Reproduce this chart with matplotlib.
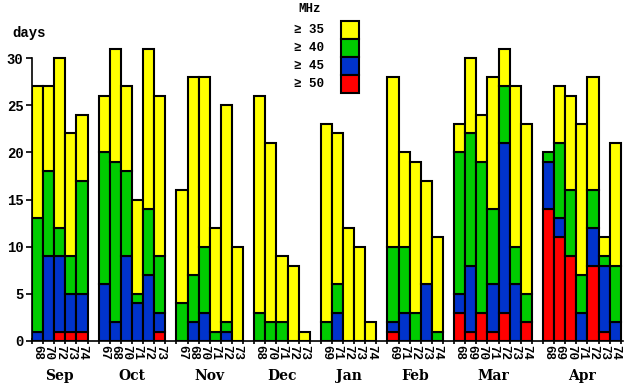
import numpy as np
import matplotlib
matplotlib.use("Agg")
import matplotlib.pyplot as plt
from matplotlib.patches import Rectangle

# data: cumulative day counts per threshold (>=50, >=45, >=40, >=35)
months = ["Sep", "Oct", "Nov", "Dec", "Jan", "Feb", "Mar", "Apr"]
years = [
    ["68", "70", "72", "73", "74"],
    ["67", "68", "70", "71", "72", "73"],
    ["67", "68", "70", "71", "72", "73"],
    ["68", "70", "71", "72", "73"],
    ["69", "71", "72", "73", "74"],
    ["69", "71", "72", "73", "74"],
    ["68", "69", "70", "71", "72", "73", "74"],
    ["68", "69", "70", "71", "72", "73", "74"],
]
ge50 = [[0, 0, 1, 1, 1], [0, 0, 0, 0, 0, 1], [0, 0, 0, 0, 0, 0], [0, 0, 0, 0, 0],
        [0, 0, 0, 0, 0], [1, 0, 0, 0, 0], [3, 1, 3, 1, 3, 0, 2], [14, 11, 9, 0, 8, 1, 0]]
ge45 = [[1, 9, 9, 5, 5], [6, 2, 9, 4, 7, 3], [0, 2, 3, 0, 1, 0], [0, 0, 0, 0, 0],
        [0, 3, 0, 0, 0], [2, 3, 0, 6, 0], [5, 8, 3, 6, 21, 6, 2], [19, 13, 9, 3, 12, 8, 2]]
ge40 = [[13, 18, 12, 9, 17], [20, 19, 18, 5, 14, 9], [4, 7, 10, 1, 2, 0], [3, 2, 2, 0, 0],
        [2, 6, 0, 0, 0], [10, 10, 3, 6, 1], [20, 22, 19, 14, 27, 10, 5], [20, 21, 16, 7, 16, 9, 8]]
ge35 = [[27, 27, 30, 22, 24], [26, 31, 27, 15, 31, 26], [16, 28, 28, 12, 25, 10], [26, 21, 9, 8, 1],
        [23, 22, 12, 10, 2], [28, 20, 19, 17, 11], [23, 30, 24, 28, 31, 27, 23], [20, 27, 26, 23, 28, 11, 21]]
legend_labels = ["\u2265 35", "\u2265 40", "\u2265 45", "\u2265 50"]

YELLOW, GREEN, BLUE, RED = "#ffff00", "#00cc00", "#0033cc", "#ff0000"
MONO = "Liberation Mono"

fig = plt.figure(figsize=(6.38, 3.87), dpi=100)
ax = fig.add_axes([32/638, 46/387, 591/638, 341/387])
ax.set_xlim(0, 53.2)
ax.set_ylim(0, 36.15)

slot = 0
tick_pos, tick_lab, bounds = [], [], []
for m, yrs in enumerate(years):
    start = slot
    for i, yr in enumerate(yrs):
        segs = [(0, ge50[m][i], RED), (ge50[m][i], ge45[m][i], BLUE),
                (ge45[m][i], ge40[m][i], GREEN), (ge40[m][i], ge35[m][i], YELLOW)]
        for lo, hi, c in segs:
            if hi > lo:
                ax.bar(slot, hi - lo, bottom=lo, width=1, align="edge",
                       color=c, edgecolor="black", linewidth=1.5)
        tick_pos.append(slot + 0.5)
        tick_lab.append(yr)
        bounds.append(slot)
        slot += 1
    bounds.append(slot)
    ax.text((start + slot) / 2, -0.104, months[m], transform=ax.get_xaxis_transform(),
            ha="center", va="center", fontsize=10, fontweight="bold", family="DejaVu Serif")
    slot += 1

ax.set_xticks(tick_pos)
ax.set_xticklabels(tick_lab, rotation=270, fontsize=9, fontweight="bold", family=MONO)
ax.tick_params(axis="x", length=0, pad=3)
ax.set_xticks(sorted(set(bounds)), minor=True)
ax.tick_params(axis="x", which="minor", length=4, width=1.2, direction="inout")

ax.set_yticks(range(0, 31, 5))
ax.set_yticklabels([str(v) for v in range(0, 31, 5)], fontsize=10, fontweight="bold", family=MONO)
ax.tick_params(axis="y", length=4, width=1.2, pad=2)

for s in ["top", "right"]:
    ax.spines[s].set_visible(False)
ax.spines["left"].set_bounds(0, 30)
ax.spines["left"].set_linewidth(1.2)
ax.spines["bottom"].set_linewidth(1.2)

fig.text(12/638, 1 - 33/387, "days", fontsize=10, fontweight="bold", family=MONO, va="center")
fig.text(310/638, 1 - 9/387, "MHz", fontsize=9, fontweight="bold", family=MONO, va="center", ha="center")

# legend boxes
for k, (lab, c) in enumerate(zip(legend_labels, [YELLOW, GREEN, BLUE, RED])):
    y0 = 21 + k * 18
    fig.patches.append(Rectangle((341/638, 1 - (y0 + 18)/387), 18/638, 18/387,
                                 transform=fig.transFigure, facecolor=c,
                                 edgecolor="black", linewidth=1.5))
    fig.text(294/638, 1 - (y0 + 9)/387, lab, fontsize=9, fontweight="bold",
             family=MONO, va="center")

fig.savefig("out.png", dpi=100)
